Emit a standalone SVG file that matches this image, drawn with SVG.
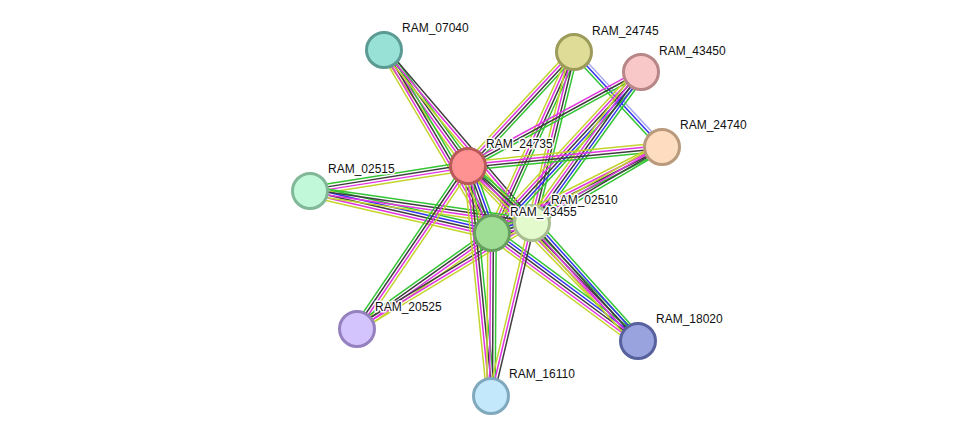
<svg xmlns="http://www.w3.org/2000/svg" width="976" height="441" viewBox="0 0 976 441">
<style>
.g{stroke:#33c433}.b{stroke:#3232f0}.k{stroke:#3d3d3d}.m{stroke:#e034e0}.y{stroke:#c3d42c}.v{stroke:#a8aaf0}
line{stroke-width:1.5;stroke-linecap:butt;fill:none}
circle{stroke-width:3}
text{font-family:"Liberation Sans",Arial,sans-serif;font-size:12px;fill:#111;stroke:#fff;stroke-width:3;stroke-linejoin:round;paint-order:stroke}
</style>
<defs>
<g id="c5"><line class="g" x1="0" y1="-5.6" x2="1" y2="-5.6"/><line class="b" x1="0" y1="-2.8" x2="1" y2="-2.8"/><line class="k" x1="0" y1="0" x2="1" y2="0"/><line class="m" x1="0" y1="2.8" x2="1" y2="2.8"/><line class="y" x1="0" y1="5.6" x2="1" y2="5.6"/></g>
<g id="c4"><line class="g" x1="0" y1="-4.2" x2="1" y2="-4.2"/><line class="k" x1="0" y1="-1.4" x2="1" y2="-1.4"/><line class="m" x1="0" y1="1.4" x2="1" y2="1.4"/><line class="y" x1="0" y1="4.2" x2="1" y2="4.2"/></g>
<g id="c3"><line class="k" x1="0" y1="-2.8" x2="1" y2="-2.8"/><line class="m" x1="0" y1="0" x2="1" y2="0"/><line class="y" x1="0" y1="2.8" x2="1" y2="2.8"/></g>
<g id="c3g"><line class="g" x1="0" y1="-2.8" x2="1" y2="-2.8"/><line class="k" x1="0" y1="0" x2="1" y2="0"/><line class="m" x1="0" y1="2.8" x2="1" y2="2.8"/></g>
<g id="c3v"><line class="v" x1="0" y1="-2.8" x2="1" y2="-2.8"/><line class="b" x1="0" y1="0" x2="1" y2="0"/><line class="g" x1="0" y1="2.8" x2="1" y2="2.8"/></g>
</defs>
<g id="edges">
<use href="#c4" transform="translate(384 50) rotate(54.09) scale(143.2 1)"/>
<use href="#c4" transform="translate(384 50) rotate(59.45) scale(212.5 1)"/>
<use href="#c3" transform="translate(384 50) rotate(49.45) scale(227.7 1)"/>
<use href="#c4" transform="translate(574 52) rotate(132.92) scale(155.7 1)"/>
<use href="#c4" transform="translate(574 52) rotate(114.38) scale(198.7 1)"/>
<use href="#c4" transform="translate(574 52) rotate(103.8) scale(176.1 1)"/>
<use href="#c3v" transform="translate(574 52) rotate(47.19) scale(129.5 1)"/>
<use href="#c3g" transform="translate(641 72) rotate(151.48) scale(196.9 1)"/>
<use href="#c5" transform="translate(641 72) rotate(132.78) scale(219.4 1)"/>
<use href="#c5" transform="translate(641 72) rotate(125.82) scale(186.2 1)"/>
<use href="#c4" transform="translate(662 147) rotate(174.41) scale(194.9 1)"/>
<use href="#c4" transform="translate(662 147) rotate(153.17) scale(190.5 1)"/>
<use href="#c4" transform="translate(662 147) rotate(149.69) scale(150.6 1)"/>
<use href="#c4" transform="translate(310 191) rotate(-8.99) scale(160 1)"/>
<use href="#c5" transform="translate(310 191) rotate(12.99) scale(186.8 1)"/>
<use href="#c4" transform="translate(310 191) rotate(8.2) scale(224.3 1)"/>
<use href="#c4" transform="translate(357 329) rotate(-55.75) scale(197.2 1)"/>
<use href="#c4" transform="translate(357 329) rotate(-35.42) scale(165.7 1)"/>
<use href="#c3" transform="translate(357 329) rotate(-31.2) scale(204.6 1)"/>
<use href="#c4" transform="translate(468 166) rotate(45.83) scale(244 1)"/>
<use href="#c5" transform="translate(492 233) rotate(36.49) scale(181.6 1)"/>
<use href="#c5" transform="translate(532 223) rotate(48.06) scale(158.6 1)"/>
<use href="#c4" transform="translate(468 166) rotate(84.29) scale(231.1 1)"/>
<use href="#c4" transform="translate(492 233) rotate(90.35) scale(163 1)"/>
<use href="#c3" transform="translate(532 223) rotate(103.33) scale(177.8 1)"/>
<use href="#c5" transform="translate(468 166) rotate(70.3) scale(71.2 1)"/>
<use href="#c4" transform="translate(468 166) rotate(41.69) scale(85.7 1)"/>
<use href="#c5" transform="translate(492 233) rotate(-14.04) scale(41.2 1)"/>
</g>
<g id="RAM_07040"><circle cx="384" cy="50" r="17.5" fill="#98e1d6" stroke="#5b9b93"/><text x="402" y="32">RAM_07040</text></g>
<g id="RAM_24745"><circle cx="574" cy="52" r="17.5" fill="#dedc96" stroke="#9d9b5a"/><text x="592" y="35">RAM_24745</text></g>
<g id="RAM_43450"><circle cx="641" cy="72" r="17.5" fill="#f8c8c8" stroke="#b88686"/><text x="659" y="55">RAM_43450</text></g>
<g id="RAM_24740"><circle cx="662" cy="147" r="17.5" fill="#fddcbf" stroke="#b99a7d"/><text x="680" y="129">RAM_24740</text></g>
<g id="RAM_24735"><circle cx="468" cy="166" r="17.5" fill="#fe9292" stroke="#b85a5a"/><text x="486" y="148">RAM_24735</text></g>
<g id="RAM_02515"><circle cx="310" cy="191" r="17.5" fill="#c2f8da" stroke="#80b898"/><text x="328" y="173">RAM_02515</text></g>
<g id="RAM_02510"><circle cx="532" cy="223" r="17.5" fill="#e3fbcc" stroke="#a9be90"/><text x="551" y="204">RAM_02510</text></g>
<g id="RAM_43455"><circle cx="492" cy="233" r="17.5" fill="#9edd93" stroke="#68a05f"/><text x="510" y="216">RAM_43455</text></g>
<g id="RAM_20525"><circle cx="357" cy="329" r="17.5" fill="#d3c4fd" stroke="#9581bf"/><text x="375" y="311">RAM_20525</text></g>
<g id="RAM_18020"><circle cx="638" cy="341" r="17.5" fill="#99a3de" stroke="#57619d"/><text x="656" y="323">RAM_18020</text></g>
<g id="RAM_16110"><circle cx="491" cy="396" r="17.5" fill="#c3e7fb" stroke="#81a9be"/><text x="509" y="378">RAM_16110</text></g>
</svg>
